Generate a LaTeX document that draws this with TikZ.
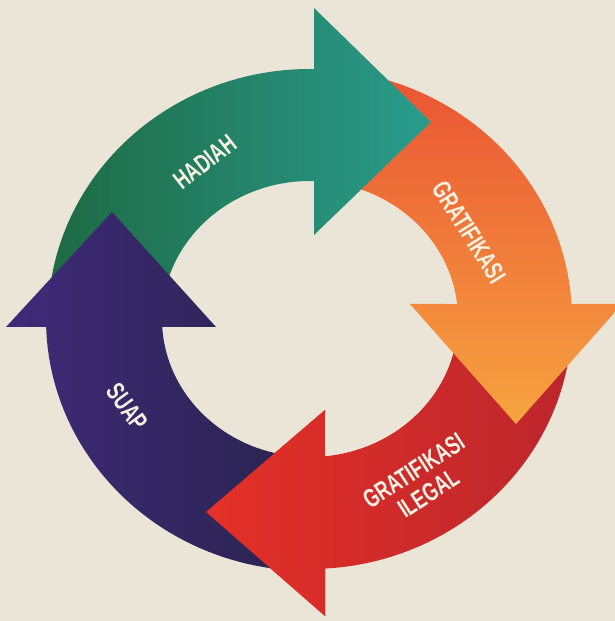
\documentclass[tikz,border=0pt]{standalone}
\usepackage{fontspec}
\newfontfamily\condf{Liberation Sans}
\definecolor{bgc}{RGB}{235,229,215}
\definecolor{gL}{RGB}{30,106,68}
\definecolor{gR}{RGB}{42,156,140}
\definecolor{oT}{RGB}{234,84,52}
\definecolor{oB}{RGB}{247,164,64}
\definecolor{rL}{RGB}{228,48,40}
\definecolor{rR}{RGB}{188,38,44}
\definecolor{pL}{RGB}{64,42,122}
\definecolor{pR}{RGB}{42,36,80}
\definecolor{txt}{RGB}{246,241,226}
\newcommand{\cnd}[1]{\scalebox{0.70}[1]{#1}}
\tikzset{
  lbl/.style={text=txt, font=\condf\bfseries\fontsize{26}{26}\selectfont, align=center, inner sep=0pt},
}
\begin{document}
\begin{tikzpicture}[x=1pt,y=1pt]
\useasboundingbox (0,0) rectangle (615,621);
\clip (0,0) rectangle (615,621);
\fill[bgc] (0,0) rectangle (615,621);
% red arrow (bottom)
\def\redpath{([shift={(310,302)}]-8:262 and 250) arc[start angle=-8, end angle=-86.7, x radius=262, y radius=250]
  -- (325,5) -- (206,109) -- (325,211)
  -- ([shift={(310,302)}]-84.2:148 and 138) arc[start angle=-84.2, end angle=-8, x radius=148, y radius=138] -- cycle}
\shade[left color=rL, right color=rR] \redpath;
% orange arrow (right)
\shade[top color=oT, bottom color=oB]
  ([shift={(310,302)}]78:262 and 250) arc[start angle=78, end angle=3.44, x radius=262, y radius=250]
  -- (622,317) -- (516,197) -- (410,317)
  -- ([shift={(310,302)}]6.24:148 and 138) arc[start angle=6.24, end angle=78, x radius=148, y radius=138] -- cycle;
% green arrow (top)
\shade[left color=gL, right color=gR]
  ([shift={(310,302)}]178:262 and 250) arc[start angle=178, end angle=89.1, x radius=262, y radius=250]
  -- (314,613) -- (431,499) -- (314,386)
  -- ([shift={(310,302)}]88.45:148 and 138) arc[start angle=88.45, end angle=178, x radius=148, y radius=138] -- cycle;
% purple arrow (left)
\shade[left color=pL, right color=pR]
  ([shift={(310,302)}]263:264 and 252) arc[start angle=263, end angle=181.8, x radius=264, y radius=252]
  -- (6,294) -- (112,409) -- (216,294)
  -- ([shift={(310,302)}]183.3:148 and 138) arc[start angle=183.3, end angle=263, x radius=148, y radius=138] -- cycle;
% red arrow head again, over the purple tail
\begin{scope}
  \clip (325,5) -- (206,109) -- (325,211) -- cycle;
  \shade[left color=rL, right color=rR] \redpath;
\end{scope}
% labels
\node[lbl, rotate=38] (hadiah) at (205,459) {\cnd{HADIAH}};
\node[lbl, rotate=-58] (grat) at (469,389) {\cnd{GRATIFIKASI}};
\node[lbl, rotate=33] (gratil) at (421,139) {\cnd{GRATIFIKASI}\\[1pt]\cnd{ILEGAL}};
\node[lbl, rotate=-54] (suap) at (127,214) {\cnd{SUAP}};
\end{tikzpicture}
\end{document}
